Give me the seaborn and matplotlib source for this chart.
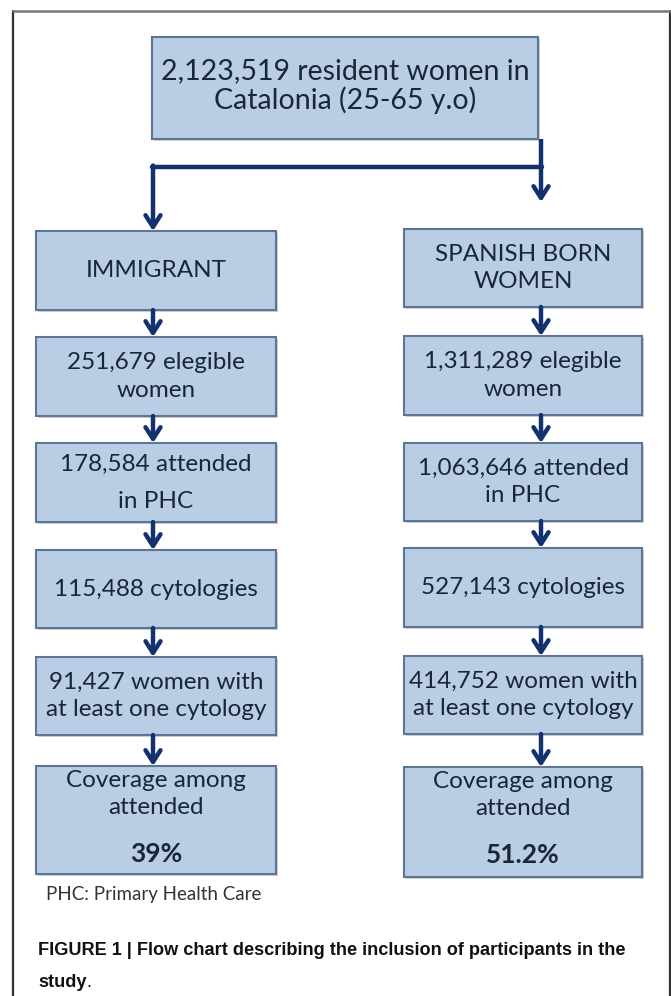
import matplotlib
matplotlib.use("Agg")
import matplotlib.pyplot as plt
from matplotlib.patches import Rectangle
import seaborn as sns

# chart content
top_text = "2,123,519 resident women in\nCatalonia (25-65 y.o)"
immigrant_steps = ["IMMIGRANT", "251,679 elegible\nwomen", "178,584 attended\nin PHC",
                   "115,488 cytologies", "91,427 women with\nat least one cytology",
                   "Coverage among\nattended"]
spanish_steps = ["SPANISH BORN\nWOMEN", "1,311,289 elegible\nwomen", "1,063,646 attended\nin PHC",
                 "527,143 cytologies", "414,752 women with\nat least one cytology",
                 "Coverage among\nattended"]
coverage = ["39%", "51.2%"]
footnote = "PHC: Primary Health Care"
caption_bold = "FIGURE 1 | Flow chart describing the inclusion of participants in the"
caption_end = "study"

# layout (pixel units)
left_x = (36, 276)
right_x = (404, 642)
left_y = [(231, 310), (337, 416), (443, 522), (550, 628), (657, 735), (766, 874)]
right_y = [(229, 307), (336, 415), (443, 521), (548, 627), (656, 734), (767, 877)]
left_arrow_x = 153
right_arrow_x = 541

FILL = "#b9cde5"
EDGE = "#5d7698"
NAVY = "#12316f"
TXT = "#1a2636"

sns.set_theme(style="white")
plt.rcParams['font.family'] = ['Lato', 'DejaVu Sans']

fig = plt.figure(figsize=(6.71, 9.96), dpi=100)
ax = fig.add_axes([0, 0, 1, 1])
ax.set_xlim(0, 671)
ax.set_ylim(996, 0)
ax.axis("off")

# outer frame
ax.plot([13, 13], [11, 1000], color="#333333", lw=1.6)
ax.plot([670, 670], [11, 1000], color="#333333", lw=1.6)
ax.plot([13, 670], [11, 11], color="#777777", lw=1.8)


def box(x0, x1, y0, y1):
    ax.add_patch(Rectangle((x0 + 2, y0 + 2), x1 - x0, y1 - y0, facecolor="#b0b0b0",
                           edgecolor="none", alpha=0.6, zorder=1))
    ax.add_patch(Rectangle((x0, y0), x1 - x0, y1 - y0, facecolor=FILL,
                           edgecolor=EDGE, lw=1.5, zorder=2))


def arrow(x, y0, y1):
    ax.annotate("", xy=(x, y1), xytext=(x, y0),
                arrowprops=dict(arrowstyle="->,head_length=0.7,head_width=0.45",
                                color=NAVY, lw=3.2, shrinkA=0, shrinkB=0), zorder=3)


# top box
box(152, 538, 37, 139)
ax.text(345, 86, top_text, ha="center", va="center", fontsize=20.5, color=TXT,
        linespacing=1.12, zorder=4)

# split connector
ax.plot([541, 541], [139, 167], color=NAVY, lw=3.2, solid_capstyle="butt", zorder=3)
ax.plot([left_arrow_x - 1, 542], [167, 167], color=NAVY, lw=3.2, zorder=3)
arrow(left_arrow_x, 165.5, left_y[0][0])
arrow(right_arrow_x, 165.5, 202)

for steps, xs, ys, ax_x, pct in [(immigrant_steps, left_x, left_y, left_arrow_x, coverage[0]),
                                  (spanish_steps, right_x, right_y, right_arrow_x, coverage[1])]:
    cx = (xs[0] + xs[1]) / 2
    for i, (label, (y0, y1)) in enumerate(zip(steps, ys)):
        box(xs[0], xs[1], y0, y1)
        if i == len(steps) - 1:
            ax.text(cx, y0 + 28, label, ha="center", va="center", fontsize=17.5,
                    color=TXT, linespacing=1.4, zorder=4)
            ax.text(cx, y0 + 88, pct, ha="center", va="center", fontsize=19,
                    fontweight="bold", color=TXT, zorder=4)
        else:
            ls = 1.95 if label == "178,584 attended\nin PHC" else 1.4
            ax.text(cx, (y0 + y1) / 2, label, ha="center", va="center", fontsize=17.5,
                    color=TXT, linespacing=ls, zorder=4)
        if i > 0:
            arrow(ax_x, ys[i - 1][1], y0)

ax.text(46, 894, footnote, ha="left", va="center", fontsize=13.5, color="#333333")

cap_font = ['Liberation Sans', 'DejaVu Sans']
ax.text(38, 950, caption_bold, ha="left", va="center", fontsize=13.1, fontweight="bold",
        family=cap_font, color="#111111")
t = ax.text(38, 982, caption_end, ha="left", va="center", fontsize=13.1, fontweight="bold",
            family=cap_font, color="#111111")
fig.canvas.draw()
bb = t.get_window_extent(renderer=fig.canvas.get_renderer())
x_end = ax.transData.inverted().transform((bb.x1, bb.y0))[0]
ax.text(x_end, 982, ".", ha="left", va="center", fontsize=13.1, family=cap_font, color="#111111")

fig.savefig("out.png", dpi=100, facecolor="white")
